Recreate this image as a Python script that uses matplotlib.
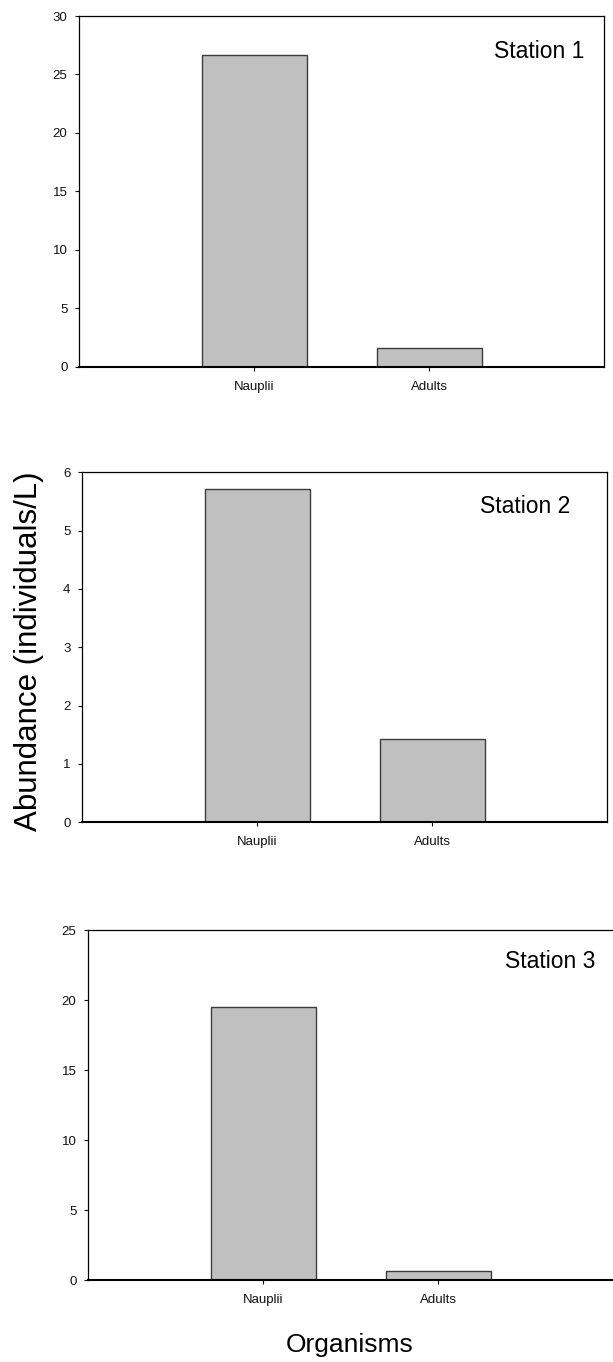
import matplotlib
matplotlib.use("Agg")
from matplotlib import pyplot as plt

plt.rcParams['font.family'] = ['Liberation Sans', 'DejaVu Sans']

# abundance of each life stage per station (individuals/L)
organisms = ['Nauplii', 'Adults']
station_names = ['Station 1', 'Station 2', 'Station 3']
station1 = [26.7, 1.62]
station2 = [5.71, 1.42]
station3 = [19.54, 0.69]
y_max = [30, 6, 25]
y_step = [5, 1, 5]

W, H = 613, 1362
fig = plt.figure(figsize=(W / 100, H / 100), dpi=100)

# axes boxes in pixels: left, top, right, bottom
boxes = [(79.3, 16.0, 604.0, 366.7),
         (82.3, 472.3, 607.3, 822.3),
         (88.3, 930.3, 613.3, 1280.3)]
label_pos = [(0.962, 0.932), (0.930, 0.935), (0.965, 0.944)]

for i, values in enumerate([station1, station2, station3]):
    l, t, r, b = boxes[i]
    ax = fig.add_axes([l / W, 1 - b / H, (r - l) / W, (b - t) / H])
    x = range(len(organisms))
    ax.bar(x, values, width=0.6, color='#c0c0c0', edgecolor='#3c3c3c',
           linewidth=1.0, zorder=2)
    ax.set_xlim(-1, 2)
    ax.set_ylim(0, y_max[i])
    ax.set_yticks(range(0, y_max[i] + 1, y_step[i]))
    ax.set_xticks(list(x))
    ax.set_xticklabels(organisms)
    ax.tick_params(axis='both', direction='out', length=3, width=0.8,
                   labelsize=9.5, colors='#111111')
    ax.tick_params(axis='y', pad=5.5)
    ax.tick_params(axis='x', pad=7)
    for s in ['top', 'left', 'right']:
        ax.spines[s].set_linewidth(0.9)
    ax.spines['bottom'].set_linewidth(1.5)
    if i == 2:
        ax.spines['right'].set_visible(False)
    ax.text(label_pos[i][0], label_pos[i][1], station_names[i],
            transform=ax.transAxes, ha='right', va='top', fontsize=16.5)

fig.text(29 / W, 1 - 651 / H, 'Abundance (individuals/L)', rotation=90,
         ha='center', va='center', fontsize=22.5)
fig.text(350 / W, 1 - 1352 / H, 'Organisms', ha='center', va='baseline',
         fontsize=19)

fig.savefig('out.png', dpi=100)
